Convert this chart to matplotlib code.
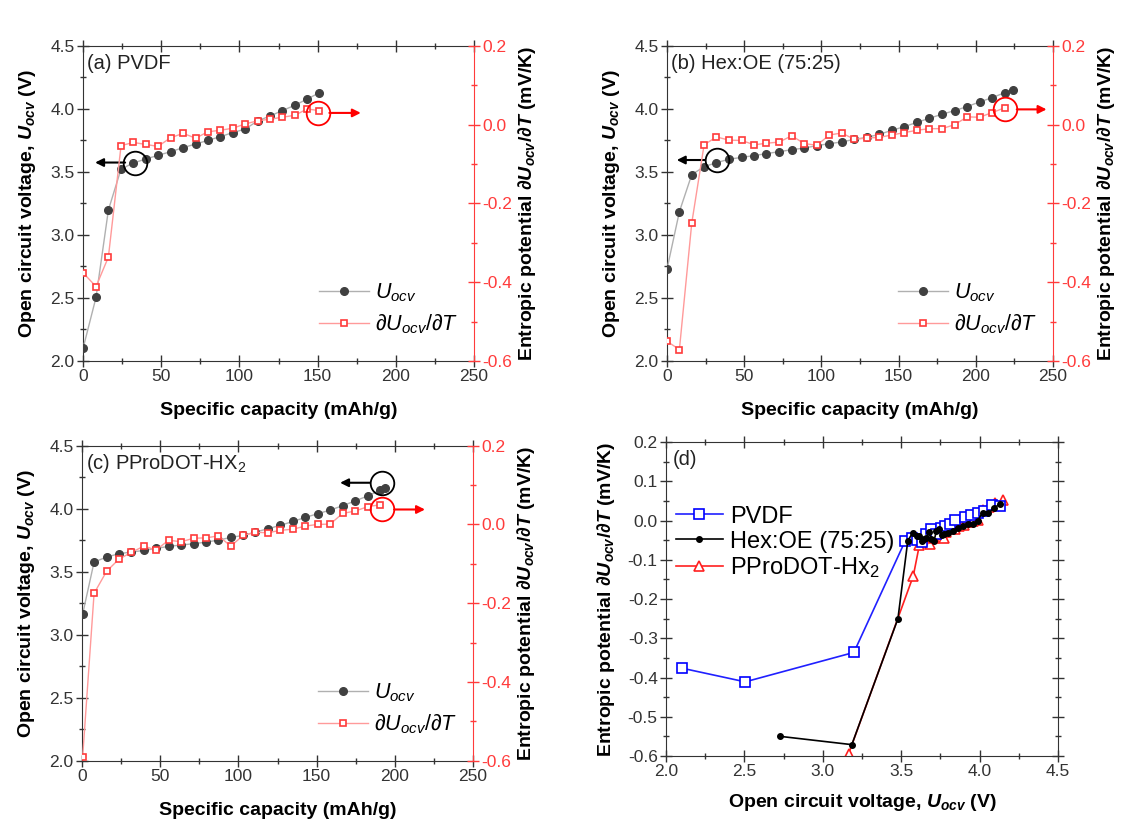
import matplotlib
matplotlib.use('Agg')
import matplotlib.pyplot as plt
from matplotlib.ticker import MultipleLocator, FormatStrFormatter

plt.rcParams['font.family'] = ['Liberation Sans', 'DejaVu Sans']
plt.rcParams['mathtext.fontset'] = 'custom'
plt.rcParams['mathtext.rm'] = 'Liberation Sans'
plt.rcParams['mathtext.it'] = 'Liberation Sans:italic'
plt.rcParams['mathtext.bf'] = 'Liberation Sans:bold'
plt.rcParams['mathtext.bfit'] = 'Liberation Sans:italic:bold'

# (a) PVDF
cap_pvdf = [0, 8.3, 16.2, 24.3, 32.2, 40, 47.9, 56, 63.9, 72, 79.8, 87.7, 95.6,
            103.7, 111.6, 119.5, 127.3, 135.4, 143.3, 150.8]
u_pvdf = [2.10, 2.505, 3.198, 3.524, 3.571, 3.603, 3.632, 3.661, 3.693, 3.722,
          3.751, 3.780, 3.812, 3.841, 3.905, 3.944, 3.987, 4.029, 4.079, 4.127]
ds_pvdf = [-0.376, -0.411, -0.336, -0.053, -0.045, -0.050, -0.055, -0.033, -0.022,
           -0.034, -0.018, -0.014, -0.009, 0.002, 0.010, 0.014, 0.019, 0.024, 0.040, 0.036]

# (b) Hex:OE (75:25)
cap_hex = [0, 8, 16, 24, 32, 40, 48.3, 56.5, 64.4, 72.6, 80.8, 88.8, 97, 105.2,
           113.1, 121.3, 129.3, 137.5, 145.7, 153.7, 161.9, 169.8, 178, 186.2,
           194.4, 202.4, 210.6, 218.8, 224]
u_hex = [2.730, 3.185, 3.479, 3.542, 3.574, 3.601, 3.616, 3.630, 3.646, 3.661,
         3.677, 3.690, 3.709, 3.725, 3.738, 3.759, 3.775, 3.799, 3.831, 3.860,
         3.894, 3.926, 3.958, 3.987, 4.019, 4.056, 4.090, 4.130, 4.153]
ds_hex = [-0.550, -0.571, -0.250, -0.051, -0.031, -0.039, -0.040, -0.051, -0.047,
          -0.044, -0.028, -0.048, -0.052, -0.026, -0.021, -0.037, -0.034, -0.032,
          -0.026, -0.020, -0.014, -0.010, -0.010, 0.000, 0.020, 0.019, 0.031, 0.043]

# (c) PProDOT-Hx2
cap_pro = [0.4, 7.7, 15.7, 23.6, 31.5, 39.6, 47.4, 55.3, 63.4, 71.3, 79.4, 87.2,
           95.1, 103, 110.9, 118.9, 126.8, 134.9, 142.8, 150.6, 158.7, 166.6,
           174.5, 182.6, 190.4, 193.8]
u_pro = [3.164, 3.577, 3.616, 3.643, 3.656, 3.669, 3.685, 3.701, 3.712, 3.722,
         3.735, 3.751, 3.772, 3.788, 3.815, 3.841, 3.868, 3.899, 3.931, 3.960,
         3.989, 4.024, 4.061, 4.101, 4.146, 4.161]
ds_pro = [-0.590, -0.175, -0.119, -0.088, -0.071, -0.055, -0.065, -0.040, -0.044,
          -0.035, -0.034, -0.029, -0.055, -0.028, -0.020, -0.021, -0.015, -0.012,
          -0.004, 0.000, 0.001, 0.028, 0.034, 0.045, 0.050]
# PProDOT-Hx2
ds_pro_d = [-0.595, -0.141, -0.062, -0.052, -0.048, -0.045, -0.060, -0.040, -0.044,
            -0.035, -0.034, -0.029, -0.045, -0.028, -0.020, -0.021, -0.015, -0.012,
            -0.004, 0.000, 0.001, 0.028, 0.034, 0.045, 0.052]

RED = '#ff3b3b'
GRAY = '#333333'

fig = plt.figure(figsize=(11.3, 8.24), dpi=100)


def style_axis(ax, xmaj, xmin, ymaj, ymin):
    ax.xaxis.set_major_locator(MultipleLocator(xmaj))
    ax.xaxis.set_minor_locator(MultipleLocator(xmin))
    ax.yaxis.set_major_locator(MultipleLocator(ymaj))
    ax.yaxis.set_minor_locator(MultipleLocator(ymin))
    ax.tick_params(which='major', direction='inout', length=8, width=1,
                   color=GRAY, labelcolor=GRAY, labelsize=12.5, pad=2)
    ax.tick_params(which='minor', direction='inout', length=5, width=1, color=GRAY)
    for s in ax.spines.values():
        s.set_color(GRAY)


def capacity_panel(rect, cap, u, ds, title, circ_u, arr_u, circ_s, arr_s):
    ax = fig.add_axes(rect)
    ax.plot(cap, u, '-o', color='#b0b0b0', lw=1, mfc='#404040', mec='#404040',
            ms=5.5, label=r'$U_{ocv}$', zorder=3)
    ax.set_xlim(0, 250)
    ax.set_ylim(2.0, 4.5)
    style_axis(ax, 50, 25, 0.5, 0.25)
    ax.yaxis.set_major_formatter(FormatStrFormatter('%.1f'))
    ax.tick_params(axis='x', which='both', top=True)
    ax.spines['right'].set_visible(False)
    ax.set_xlabel('Specific capacity (mAh/g)', fontsize=14, fontweight='bold',
                  labelpad=13)
    ax.set_ylabel(r'Open circuit voltage, $\mathbfit{U}_{\mathbfit{ocv}}$ (V)',
                  fontsize=14, fontweight='bold', labelpad=9)
    ax.text(0.010, 0.945, title, transform=ax.transAxes, fontsize=14.5,
            va='center', ha='left', color='#222222')

    ax2 = ax.twinx()
    ax2.plot(cap[:len(ds)], ds, '-s', color='#ff9a9a', lw=1, mfc='white', mec=RED,
             mew=1.2, ms=5, label=r'$\partial U_{ocv}/\partial T$', zorder=3)
    ax2.set_ylim(-0.6, 0.2)
    ax2.yaxis.set_major_locator(MultipleLocator(0.2))
    ax2.yaxis.set_minor_locator(MultipleLocator(0.1))
    ax2.tick_params(which='major', direction='inout', length=8, width=1,
                    color=RED, labelcolor=RED, labelsize=12.5, pad=2)
    ax2.tick_params(which='minor', direction='inout', length=5, width=1, color=RED)
    ax2.yaxis.set_major_formatter(FormatStrFormatter('%.1f'))
    for k in ['left', 'top', 'bottom']:
        ax2.spines[k].set_visible(False)
    ax2.spines['right'].set_color(RED)
    ax2.set_ylabel(r'Entropic potential $\mathbfit{\partial U}_{\mathbfit{ocv}}\mathbf{/}\mathbfit{\partial T}$ (mV/K)',
                   fontsize=14, fontweight='bold', labelpad=3)

    # guide circles and arrows
    ax.plot([circ_u[0]], [circ_u[1]], 'o', mfc='none', mec='black', ms=17, mew=1.3,
            zorder=5)
    ax.annotate('', xy=(arr_u[1], circ_u[1]), xytext=(arr_u[0], circ_u[1]),
                arrowprops=dict(arrowstyle='-|>', color='black', lw=1.5,
                                mutation_scale=12, shrinkA=0, shrinkB=0))
    ax2.plot([circ_s[0]], [circ_s[1]], 'o', mfc='none', mec='red', ms=17, mew=1.3,
             zorder=5)
    ax2.annotate('', xy=(arr_s[1], circ_s[1]), xytext=(arr_s[0], circ_s[1]),
                 arrowprops=dict(arrowstyle='-|>', color='red', lw=1.5,
                                 mutation_scale=12, shrinkA=0, shrinkB=0))

    h1, l1 = ax.get_legend_handles_labels()
    h2, l2 = ax2.get_legend_handles_labels()
    ax2.legend(h1 + h2, l1 + l2, loc='lower right', bbox_to_anchor=(1.01, 0.017),
               frameon=False, fontsize=15.5, handlelength=2.3, handletextpad=0.3,
               labelspacing=0.4)
    return ax


capacity_panel([0.0735, 0.5619, 0.346, 0.3823], cap_pvdf, u_pvdf, ds_pvdf,
               '(a) PVDF', (33.5, 3.575), (26.9, 7.7), (150.4, 0.030), (157.5, 177.6))
capacity_panel([0.5903, 0.5619, 0.3416, 0.3823], cap_hex, u_hex, ds_hex,
               '(b) Hex:OE (75:25)', (32.4, 3.595), (24.6, 6.3), (218.8, 0.039), (226.5, 245.8))
capacity_panel([0.0726, 0.0768, 0.346, 0.3823], cap_pro, u_pro, ds_pro,
               r'(c) PProDOT-HX$_2$', (191.6, 4.206), (184.1, 165.0), (192.0, 0.038), (199.5, 219.3))

# (d) entropic potential vs OCV
axd = fig.add_axes([0.5894, 0.0825, 0.3469, 0.381])
axd.plot(u_pro[:len(ds_pro_d)], ds_pro_d, '-^', color='#ff2020', lw=1.2, mfc='white',
         mec='#ff2020', mew=1.2, ms=7.5, label=r'PProDOT-Hx$_2$', zorder=2)
axd.plot(u_pvdf, ds_pvdf, '-s', color='#2020ff', lw=1.2, mfc='white', mec='#0000ff',
         mew=1.2, ms=6.5, label='PVDF', zorder=3)
axd.plot(u_hex[:len(ds_hex)], ds_hex, '-o', color='black', lw=1.2, ms=4,
         label='Hex:OE (75:25)', zorder=4)
axd.set_xlim(2.0, 4.5)
axd.set_ylim(-0.6, 0.2)
style_axis(axd, 0.5, 0.25, 0.1, 0.05)
axd.tick_params(which='both', top=True, right=True)
axd.xaxis.set_major_formatter(FormatStrFormatter('%.1f'))
axd.yaxis.set_major_formatter(FormatStrFormatter('%.1f'))
axd.set_xlabel(r'Open circuit voltage, $\mathbfit{U}_{\mathbfit{ocv}}$ (V)',
               fontsize=14, fontweight='bold', labelpad=9)
axd.set_ylabel(r'Entropic potential $\mathbfit{\partial U}_{\mathbfit{ocv}}\mathbf{/}\mathbfit{\partial T}$ (mV/K)',
               fontsize=14, fontweight='bold', labelpad=8)
axd.text(0.018, 0.943, '(d)', transform=axd.transAxes, fontsize=14.5,
         va='center', ha='left', color='#222222')
hd, ld = axd.get_legend_handles_labels()
order = [1, 2, 0]
axd.legend([hd[i] for i in order], [ld[i] for i in order], loc='upper left',
           bbox_to_anchor=(-0.03, 0.865), frameon=False, fontsize=17,
           handlelength=2.0, handletextpad=0.3, labelspacing=0.12)

fig.savefig('out.png', dpi=100)
